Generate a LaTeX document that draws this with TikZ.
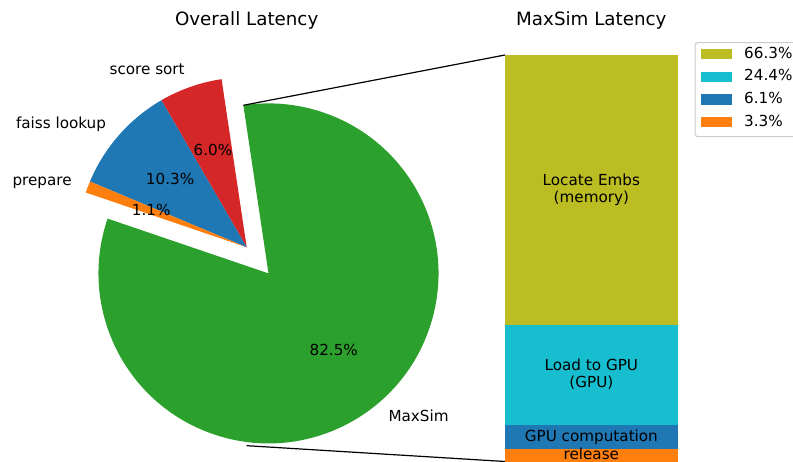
\documentclass[tikz,border=0pt]{standalone}
\usepackage{fontspec}
\setmainfont{DejaVu Sans}
\definecolor{cOlive}{HTML}{BCBD22}
\definecolor{cCyan}{HTML}{17BECF}
\definecolor{cBlue}{HTML}{1F77B4}
\definecolor{cOrange}{HTML}{FF7F0E}
\definecolor{cGreen}{HTML}{2CA02C}
\definecolor{cRed}{HTML}{D62728}
\newcommand\lpst{\vphantom{lp}}
\begin{document}
\begin{tikzpicture}[x=1pt,y=1pt,
  lbl/.style={inner sep=0pt, font=\fontsize{15.2}{17.2}\selectfont},
  ttl/.style={inner sep=0pt, font=\fontsize{18.27}{22}\selectfont, anchor=base},
  conn/.style={line width=1.2pt, black},
  legpatch/.style={inner sep=0pt, minimum width=31.3pt, minimum height=10.5pt},
  legbox/.style={fill=white, draw=black!20, line width=1pt, rounded corners=3pt}]
\useasboundingbox (0,0) rectangle (793,462);
\clip (0,0) rectangle (793,462);

% titles
\node[ttl] (t1) at (246.7,436) {Overall Latency};
\node[ttl] (t2) at (591.35,436) {MaxSim Latency};

% pie
\coordinate (O) at (246.7,214.7);
\coordinate (G) at (268.5,188.6);
\fill[cRed] (O) -- ++(98.5:170pt) arc[start angle=98.5, end angle=120.12, radius=170pt] -- cycle;
\fill[cBlue] (O) -- ++(120.12:170pt) arc[start angle=120.12, end angle=157.24, radius=170pt] -- cycle;
\fill[cOrange] (O) -- ++(157.24:170pt) arc[start angle=157.24, end angle=161.2, radius=170pt] -- cycle;
\fill[cGreen] (G) -- ++(161.2:170pt) arc[start angle=161.2, end angle=458.5, radius=170pt] -- cycle;

% percentages
\node[lbl] (p1) at (213.0,311.0) {6.0\%\lpst};
\node[lbl] (p2) at (170.1,282.0) {10.3\%\lpst};
\node[lbl] (p3) at (151.3,250.9) {1.1\%\lpst};
\node[lbl] (p4) at (333.8,110.3) {82.5\%\lpst};

% labels
\node[lbl, anchor=east] (l1) at (184.9,391.2) {score sort\lpst};
\node[lbl, anchor=east] (l2) at (106.2,338.1) {faiss lookup\lpst};
\node[lbl, anchor=east] (l3) at (71.9,281.0) {prepare\lpst};
\node[lbl, anchor=west] (l4) at (388.3,45.0) {MaxSim\lpst};

% bar
\fill[cOlive] (505,137) rectangle (677.7,407);
\fill[cCyan] (505,37) rectangle (677.7,137);
\fill[cBlue] (505,13.3) rectangle (677.7,37);
\fill[cOrange] (505,-1) rectangle (677.7,13.3);
\node[lbl, align=center] (b1) at (591.35,272) {Locate Embs\lpst\\(memory)\lpst};
\node[lbl, align=center] (b2) at (591.35,87) {Load to GPU\lpst\\(GPU)\lpst};
\node[lbl] (b3) at (591.35,25.1) {GPU computation\lpst};
\node[lbl] (b4) at (591.35,6.8) {release\lpst};

% connectors
\coordinate (wTop) at (243.4,356.7);
\coordinate (wBot) at (246.7,16.3);
\coordinate (barTop) at (505,407);
\coordinate (barBot) at (505,0.5);
\draw[conn] (wTop) -- (barTop);
\draw[conn] (wBot) -- (barBot);

% legend
\draw[legbox] (695,325.3) rectangle (805,419.3);
\node[legpatch, fill=cOlive] (g1) at (716.65,407.8) {};
\node[legpatch, fill=cCyan] (g2) at (716.65,385.2) {};
\node[legpatch, fill=cBlue] (g3) at (716.65,362.5) {};
\node[legpatch, fill=cOrange] (g4) at (716.65,339.8) {};
\node[lbl, anchor=west] (gt1) at (744,407.8) {66.3\%\lpst};
\node[lbl, anchor=west] (gt2) at (744,385.2) {24.4\%\lpst};
\node[lbl, anchor=west] (gt3) at (744,362.5) {6.1\%\lpst};
\node[lbl, anchor=west] (gt4) at (744,339.8) {3.3\%\lpst};
\end{tikzpicture}
\end{document}
